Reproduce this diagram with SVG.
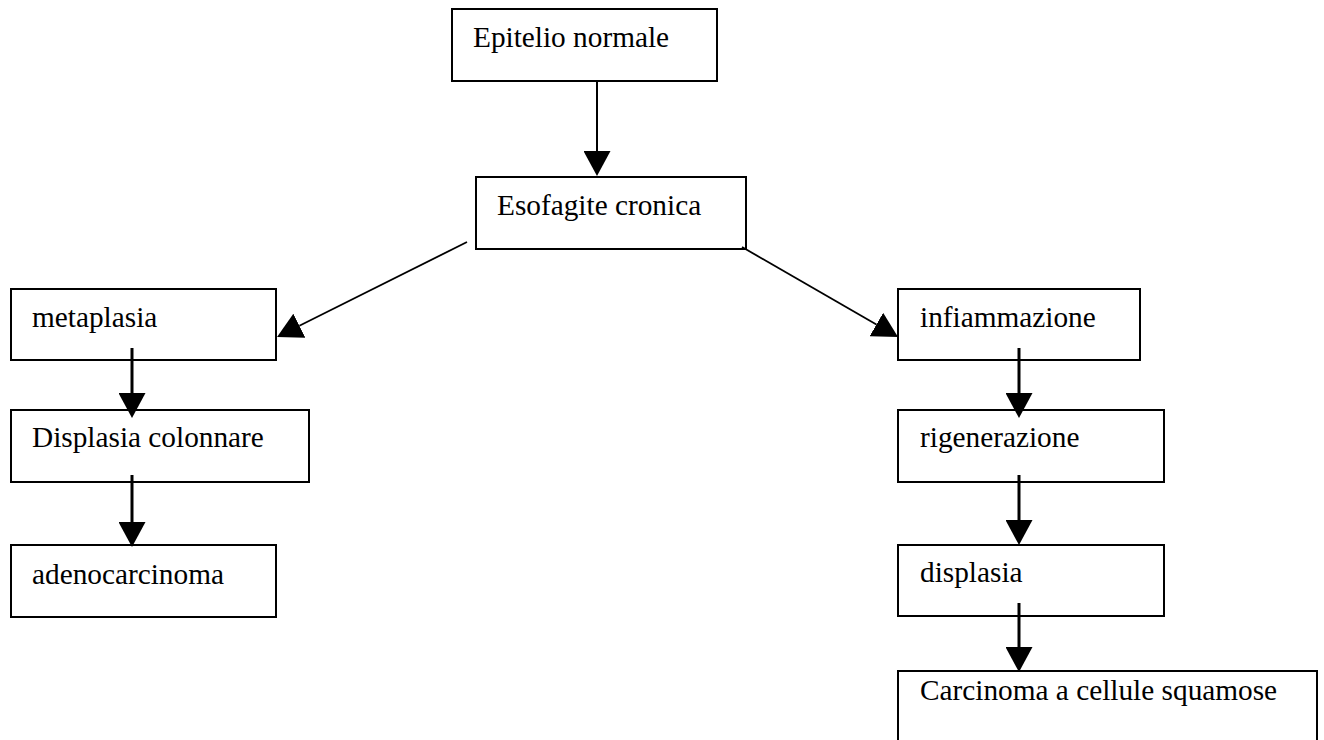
<svg xmlns="http://www.w3.org/2000/svg" width="1324" height="740" viewBox="0 0 1324 740">
<style>
.box{fill:#fff;stroke:#000;stroke-width:2}
.lbl{font-family:"Liberation Serif","Times New Roman",serif;font-size:29.3px;fill:#000}
.c{stroke:#000;fill:none}
</style>
<defs>
<marker id="ah" viewBox="0 0 25 27" refX="0" refY="13.5" markerWidth="25" markerHeight="27" markerUnits="userSpaceOnUse" orient="auto">
<path d="M0,0 L25,13.5 L0,27 z" fill="#000"/>
</marker>
</defs>
<rect width="1324" height="740" fill="#fff"/>
<g id="n-epitelio"><rect class="box" x="452" y="9" width="265" height="72"/><text class="lbl" x="473" y="47">Epitelio normale</text></g>
<g id="n-esofagite"><rect class="box" x="476" y="177" width="270" height="72"/><text class="lbl" x="497" y="215">Esofagite cronica</text></g>
<g id="n-metaplasia"><rect class="box" x="11" y="289" width="265" height="71"/><text class="lbl" x="32" y="327">metaplasia</text></g>
<g id="n-displasia-colonnare"><rect class="box" x="11" y="410" width="298" height="72"/><text class="lbl" x="32" y="447">Displasia colonnare</text></g>
<g id="n-adenocarcinoma"><rect class="box" x="11" y="545" width="265" height="72"/><text class="lbl" x="32" y="584">adenocarcinoma</text></g>
<g id="n-infiammazione"><rect class="box" x="898" y="289" width="242" height="71"/><text class="lbl" x="920" y="327">infiammazione</text></g>
<g id="n-rigenerazione"><rect class="box" x="898" y="410" width="266" height="72"/><text class="lbl" x="920" y="447">rigenerazione</text></g>
<g id="n-displasia"><rect class="box" x="898" y="545" width="266" height="71"/><text class="lbl" x="920" y="582">displasia</text></g>
<g id="n-carcinoma"><rect class="box" x="898" y="671" width="419" height="80"/><text class="lbl" x="920" y="700">Carcinoma a cellule squamose</text></g>
<g id="connectors">
<line class="c" x1="597" y1="81" x2="597" y2="151" stroke-width="2" marker-end="url(#ah)"/>
<line class="c" x1="467" y1="242" x2="299.4" y2="325.8" stroke-width="1.8" marker-end="url(#ah)"/>
<line class="c" x1="742" y1="247" x2="876.4" y2="324.5" stroke-width="1.8" marker-end="url(#ah)"/>
<line class="c" x1="132" y1="348" x2="132" y2="393" stroke-width="3" marker-end="url(#ah)"/>
<line class="c" x1="132" y1="475" x2="132" y2="522" stroke-width="3" marker-end="url(#ah)"/>
<line class="c" x1="1019" y1="348" x2="1019" y2="393" stroke-width="3" marker-end="url(#ah)"/>
<line class="c" x1="1019" y1="475" x2="1019" y2="520" stroke-width="3" marker-end="url(#ah)"/>
<line class="c" x1="1019" y1="603" x2="1019" y2="647" stroke-width="3" marker-end="url(#ah)"/>
</g>
</svg>
